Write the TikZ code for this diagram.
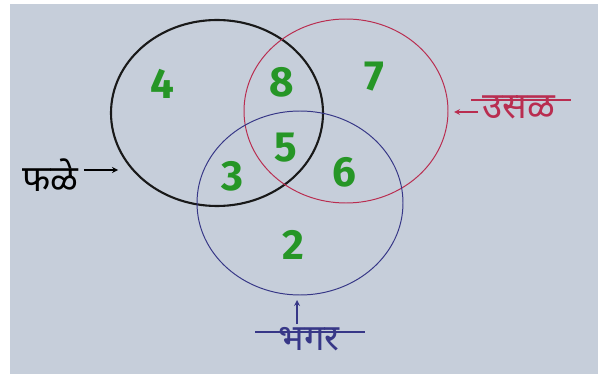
\documentclass[tikz,border=0pt]{standalone}
\usepackage{fontspec}
\newfontfamily\deva[Script=Devanagari]{Noto Sans}
\newfontfamily\numfont{Fira Sans}
\definecolor{paper}{RGB}{198,206,218}
\definecolor{inkred}{RGB}{185,45,80}
\definecolor{inkblue}{RGB}{55,55,135}
\definecolor{inkgreen}{RGB}{38,150,38}
\begin{document}
\begin{tikzpicture}[x=0.025cm,y=-0.025cm,
	num/.style={inkgreen,font=\numfont\bfseries\fontsize{30}{30}\selectfont},
	lbl/.style={font=\deva\fontsize{26}{26}\selectfont,inner sep=0pt},
	tip/.style={->,>=stealth,line width=0.9pt}]
		\useasboundingbox (0,0) rectangle (605,380);
		\fill[white] (0,0) rectangle (605,380);
		\fill[paper] (10,4) rectangle (598,374);
		
		% the three sets
		\draw[line width=1.5pt,black!90] (217,113) ellipse [x radius=106,y radius=93];
		\draw[line width=0.7pt,inkred] (346,111) ellipse [x radius=102,y radius=92];
		\draw[line width=0.7pt,inkblue] (300,203) ellipse [x radius=103,y radius=92];
		
		\node[num] (n4) at (162,84) {4};
		\node[num] (n8) at (282,82) {8};
		\node[num] (n7) at (374,77) {7};
		\node[num] (n5) at (286,148) {5};
		\node[num] (n3) at (232,176) {3};
		\node[num] (n6) at (344,172) {6};
		\node[num] (n2) at (293,245) {2};
		
		% labels
		\node[lbl,black,anchor=south] (fale) at (50,192) {फळे};
		\coordinate (faletip) at (118,170);
		\draw[tip,black] ([xshift=4pt]fale.east |- faletip) -- (faletip);
		
		\node[lbl,inkred,anchor=north] (usal) at (519,95) {उसळ};
		\coordinate (usaltip) at (454,112);
		\draw[inkred,line width=1.2pt] (471,100) -- (571,100);
		\draw[tip,inkred] (478,112) -- (usaltip);
		
		\node[lbl,inkblue,anchor=north] (bhagar) at (309,327) {भगर};
		\coordinate (bhagartip) at (297,300);
		\draw[inkblue,line width=1.2pt] (255,332) -- (365,332);
		\draw[tip,inkblue] (297,324) -- (bhagartip);
	\end{tikzpicture}
\end{document}
